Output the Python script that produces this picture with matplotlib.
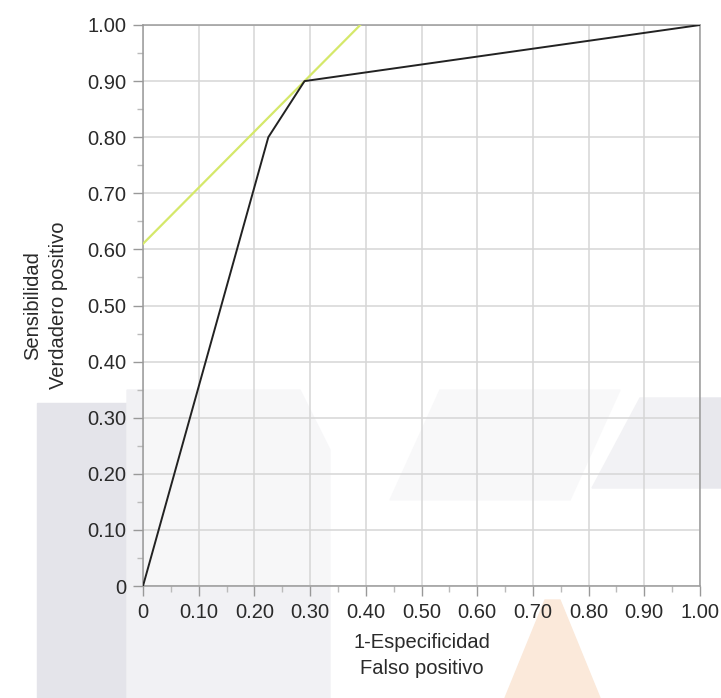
import numpy as np
import matplotlib.pyplot as plt
from matplotlib.patches import Rectangle, Polygon
from matplotlib.ticker import MultipleLocator

# datos de la curva ROC
fpr = [0.0, 0.225, 0.29, 1.0]
tpr = [0.0, 0.80, 0.90, 1.0]

# recta tangente (pendiente 1)
tan_x = [0.0, 0.39]
tan_y = [0.61, 1.00]

ticks = np.arange(0, 1.01, 0.1)
tick_labels = ['0'] + [f'{t:.2f}' for t in ticks[1:]]

plt.rcParams['font.family'] = ['Liberation Sans', 'DejaVu Sans']

fig = plt.figure(figsize=(7.21, 6.98), dpi=100)
fig.patch.set_facecolor('white')

# manchas de fondo (marca de agua), detrás del gráfico
fondo = [
    Rectangle((37/721, 0), 90/721, 1 - 403/698, color='#e4e4ea'),
    Polygon([(127/721, 0), (127/721, 1 - 390/698), (300/721, 1 - 390/698),
             (330/721, 1 - 450/698), (330/721, 0)], closed=True, color='#f1f1f4'),
    Polygon([(390/721, 1 - 500/698), (440/721, 1 - 390/698), (620/721, 1 - 390/698),
             (570/721, 1 - 500/698)], closed=True, color='#f3f3f5'),
    Polygon([(592/721, 1 - 488/698), (640/721, 1 - 398/698), (721/721, 1 - 398/698),
             (721/721, 1 - 488/698)], closed=True, color='#e8e8ed'),
    Polygon([(505/721, 0), (545/721, 1 - 600/698), (560/721, 1 - 600/698),
             (600/721, 0)], closed=True, color='#fbe9da'),
]
for p in fondo:
    p.set_transform(fig.transFigure)
    p.set_zorder(-5)
    fig.patches.append(p)

ax = fig.add_axes([143/721, 1 - 586/698, 557/721, 561/698])
ax.set_facecolor((1, 1, 1, 0.45))

ax.plot(tan_x, tan_y, color='#d5e86a', lw=1.6, zorder=3)
ax.plot(fpr, tpr, color='#222222', lw=1.4, zorder=4)

ax.set_xlim(0, 1)
ax.set_ylim(0, 1)
ax.set_xticks(ticks)
ax.set_xticklabels(tick_labels)
ax.set_yticks(ticks)
ax.set_yticklabels(tick_labels)
ax.xaxis.set_minor_locator(MultipleLocator(0.05))
ax.yaxis.set_minor_locator(MultipleLocator(0.05))
ax.tick_params(which='major', length=7, width=1, color='#999999',
               labelsize=14.5, labelcolor='#2a2a2a', pad=5)
ax.tick_params(which='minor', length=4, width=1, color='#bbbbbb')

ax.grid(True, which='major', color='#d6d6d6', lw=1.1)
ax.set_axisbelow(True)
for s in ax.spines.values():
    s.set_color('#9a9a9a')
    s.set_linewidth(1.1)

ax.set_xlabel('1-Especificidad\nFalso positivo', fontsize=14.5,
              color='#2a2a2a', labelpad=8, linespacing=1.45)
ax.set_ylabel('Sensibilidad\nVerdadero positivo', fontsize=14.5,
              color='#2a2a2a', labelpad=14, linespacing=1.45)

fig.savefig('out.png', dpi=100)
